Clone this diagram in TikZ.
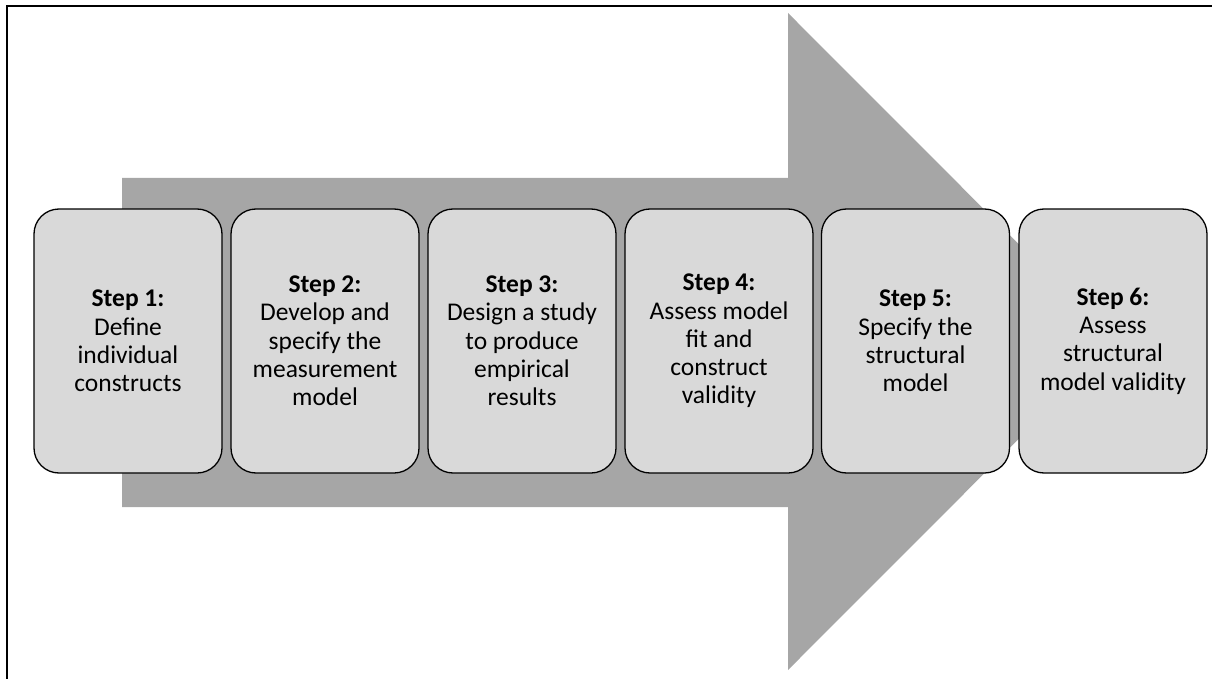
\documentclass[tikz,border=0pt]{standalone}
\usepackage{fontspec}
\setmainfont{Carlito}
\definecolor{arrowgray}{HTML}{A6A6A6}
\definecolor{boxgray}{HTML}{D9D9D9}
\begin{document}
\begin{tikzpicture}[x=1pt,y=-1pt,
  stepbox/.style={draw=black, line width=1.3pt, fill=boxgray, rounded corners=25pt,
    minimum width=188pt, minimum height=264pt, inner sep=0pt, align=center,
    font=\fontsize{25.5}{28.3}\selectfont}]
\useasboundingbox (0,0) rectangle (1212,679);
% frame
\draw[line width=2.5pt, black] (7,679) -- (7,6) -- (1212,6);
% big arrow
\fill[arrowgray] (122,178) -- (788,178) -- (788,13) -- (1116,341.5) -- (788,670) -- (788,507) -- (122,507) -- cycle;
% steps
\node[stepbox] (s1) at (128,341) {\textbf{Step 1:}\\Define\\individual\\constructs};
\node[stepbox] (s2) at (325,341) {\textbf{Step 2:}\\Develop and\\specify the\\measurement\\model};
\node[stepbox] (s3) at (522,341) {\textbf{Step 3:}\\Design a study\\to produce\\empirical\\results};
\node[stepbox] (s4) at (719,341) {\textbf{Step 4:}\\Assess model\\fit and\\construct\\validity};
\node[stepbox] (s5) at (915.5,341) {\textbf{Step 5:}\\Specify the\\structural\\model};
\node[stepbox] (s6) at (1113,341) {\textbf{Step 6:}\\Assess\\structural\\model validity};
\end{tikzpicture}
\end{document}
